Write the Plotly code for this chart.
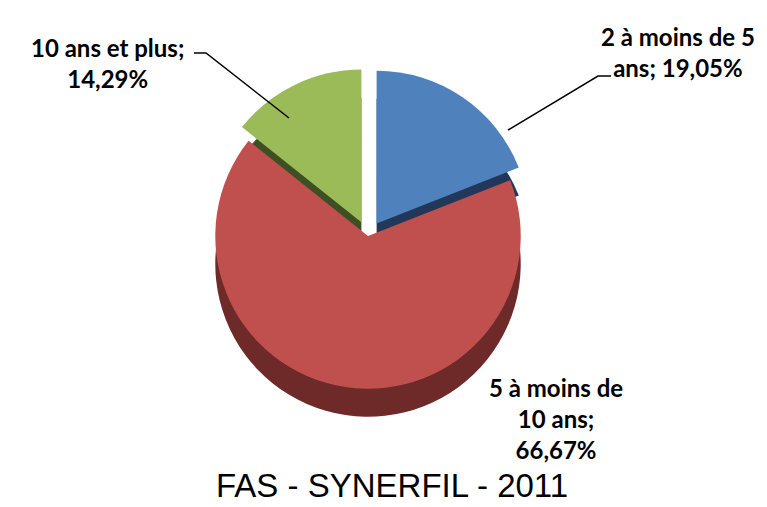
import plotly.graph_objects as go

categories = ["2 à moins de 5 ans", "5 à moins de 10 ans", "10 ans et plus"]
values = [19.05, 66.67, 14.29]
label_texts = ["2 à moins de 5<br>ans; 19,05%", "5 à moins de<br>10 ans;<br>66,67%", "10 ans et plus;<br>14,29%"]
colors = ["#4F81BD", "#C0504D", "#9BBB59"]
side_colors = ["#22385A", "#6E2A28", "#3D4F24"]
pulls = [0.1, 0.0, 0.1]
title_text = "FAS - SYNERFIL - 2011"

W, H = 767, 507
cx, cy = 360, 228  # pixel centre (from top)
half = 168
depth = 28

def dom(cx, cy, half):
    return dict(x=[(cx - half) / W, (cx + half) / W],
                y=[(H - cy - half) / H, (H - cy + half) / H])

fig = go.Figure()
# depth layer
fig.add_trace(go.Pie(labels=categories, values=values, sort=False, direction="clockwise",
                     rotation=0, pull=pulls, textinfo="none", hoverinfo="skip",
                     marker=dict(colors=side_colors, line=dict(width=0)),
                     domain=dom(cx, cy + depth, half), showlegend=False))
# top layer
fig.add_trace(go.Pie(labels=categories, values=values, sort=False, direction="clockwise",
                     rotation=0, pull=pulls, textinfo="none",
                     marker=dict(colors=colors, line=dict(width=0)),
                     domain=dom(cx, cy, half), showlegend=False))

lab_pos = [(670, 44), (548, 410), (99, 55)]
font = dict(family="Lato", size=24, color="black")
for (x, y), t in zip(lab_pos, label_texts):
    fig.add_annotation(x=x / W, y=1 - y / H, xref="paper", yref="paper", text="<b>" + t + "</b>",
                       showarrow=False, font=font, align="center", xanchor="center", yanchor="middle")

# leader lines
def px(x, y):
    return f"{x / W},{1 - y / H}"
fig.add_shape(type="path", xref="paper", yref="paper",
              path=f"M {px(186, 45)} L {px(198, 45)} L {px(281, 110)}",
              line=dict(color="black", width=1.5))
fig.add_shape(type="path", xref="paper", yref="paper",
              path=f"M {px(603, 68)} L {px(590, 68)} L {px(500, 122)}",
              line=dict(color="black", width=1.5))

fig.add_annotation(x=0.5, y=1 - 477 / H, xref="paper", yref="paper", text=title_text, showarrow=False,
                   font=dict(family="Liberation Sans", size=33, color="black"),
                   xanchor="center", yanchor="middle")

fig.update_layout(width=W, height=H, margin=dict(l=0, r=0, t=0, b=0),
                  paper_bgcolor="white", plot_bgcolor="white")
fig.write_html("out.html")
